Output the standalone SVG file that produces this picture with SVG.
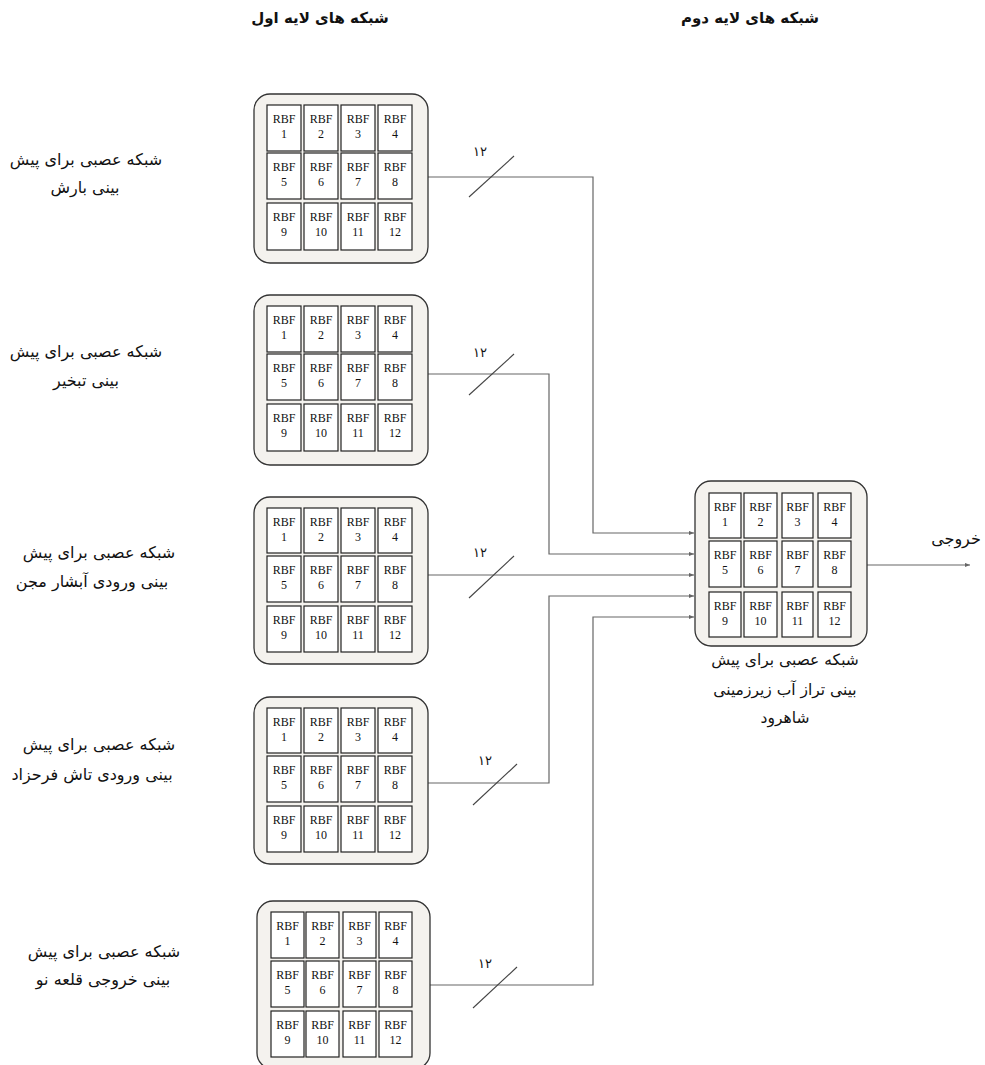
<svg xmlns="http://www.w3.org/2000/svg" width="985" height="1065" viewBox="0 0 985 1065">
<style>
.box{fill:#f4f2ee;stroke:#333;stroke-width:1.3}
.cell{fill:#fff;stroke:#222;stroke-width:1.2}
.rbf{font-family:"Liberation Serif",serif;font-size:12px;fill:#111;text-anchor:middle}
.fa{font-family:"DejaVu Sans",sans-serif;font-size:16px;fill:#111;text-anchor:middle}
.fr{font-family:"DejaVu Sans",sans-serif;font-size:15.5px;fill:#111;text-anchor:middle}
.hd{font-family:"DejaVu Sans",sans-serif;font-size:15px;font-weight:bold;fill:#111;text-anchor:middle}
.num{font-family:"DejaVu Sans",sans-serif;font-size:13px;fill:#111;text-anchor:middle}
.con{fill:none;stroke:#666;stroke-width:1.2}
.sl{stroke:#444;stroke-width:1.1}
</style>
<defs>
<marker id="arr" viewBox="0 0 6 6" refX="6" refY="3" markerWidth="5" markerHeight="5" orient="auto" markerUnits="userSpaceOnUse"><path d="M0,0.5 L6,3 L0,5.5 z" fill="#666"/></marker>
</defs>

<text class="hd" x="320" y="23">شبکه های لایه اول</text>
<text class="hd" x="750" y="23">شبکه های لایه دوم</text>

<g id="connectors">
<polyline class="con" points="428,177 593,177 593,533 694,533" marker-end="url(#arr)"/>
<polyline class="con" points="428,374 549,374 549,554 694,554" marker-end="url(#arr)"/>
<polyline class="con" points="428,575 694,575" marker-end="url(#arr)"/>
<polyline class="con" points="428,783 549,783 549,596 694,596" marker-end="url(#arr)"/>
<polyline class="con" points="430,985 593,985 593,617 694,617" marker-end="url(#arr)"/>
<polyline class="con" points="867,565 970,565" marker-end="url(#arr)"/>
<line class="sl" x1="469" y1="197" x2="514" y2="156"/>
<line class="sl" x1="469" y1="395" x2="514" y2="354"/>
<line class="sl" x1="469" y1="598" x2="514" y2="556"/>
<line class="sl" x1="473" y1="805" x2="517" y2="764"/>
<line class="sl" x1="473" y1="1008" x2="517" y2="967"/>
<text class="num" x="480" y="156">۱۲</text>
<text class="num" x="480" y="357">۱۲</text>
<text class="num" x="480" y="557">۱۲</text>
<text class="num" x="485" y="765">۱۲</text>
<text class="num" x="485" y="968">۱۲</text>
</g>

<g id="label1"><text class="fa" x="86" y="165">شبکه عصبی برای پیش</text><text class="fa" x="85" y="193">بینی بارش</text></g>
<g id="label2"><text class="fa" x="86" y="357">شبکه عصبی برای پیش</text><text class="fa" x="86" y="386">بینی تبخیر</text></g>
<g id="label3"><text class="fa" x="99" y="558">شبکه عصبی برای پیش</text><text class="fa" x="92" y="587">بینی ورودی آبشار مجن</text></g>
<g id="label4"><text class="fa" x="99" y="750">شبکه عصبی برای پیش</text><text class="fa" x="92" y="780">بینی ورودی تاش فرحزاد</text></g>
<g id="label5"><text class="fa" x="104" y="957">شبکه عصبی برای پیش</text><text class="fa" x="103" y="985">بینی خروجی قلعه نو</text></g>
<g id="labelR"><text class="fr" x="785" y="665">شبکه عصبی برای پیش</text><text class="fr" x="785" y="695">بینی تراز آب زیرزمینی</text><text class="fr" x="785" y="723">شاهرود</text></g>
<g id="output"><text class="fa" x="956" y="544">خروجی</text></g>

<g id="net1" transform="translate(254,94)">
<rect class="box" x="0" y="0" width="174" height="169" rx="16"/>
<rect class="cell" x="13" y="11" width="34" height="46"/><rect class="cell" x="50" y="11" width="34" height="46"/><rect class="cell" x="87" y="11" width="34" height="46"/><rect class="cell" x="124" y="11" width="34" height="46"/>
<rect class="cell" x="13" y="59" width="34" height="46"/><rect class="cell" x="50" y="59" width="34" height="46"/><rect class="cell" x="87" y="59" width="34" height="46"/><rect class="cell" x="124" y="59" width="34" height="46"/>
<rect class="cell" x="13" y="109" width="34" height="47"/><rect class="cell" x="50" y="109" width="34" height="47"/><rect class="cell" x="87" y="109" width="34" height="47"/><rect class="cell" x="124" y="109" width="34" height="47"/>
<text class="rbf" x="30" y="29">RBF</text><text class="rbf" x="30" y="44">1</text><text class="rbf" x="67" y="29">RBF</text><text class="rbf" x="67" y="44">2</text><text class="rbf" x="104" y="29">RBF</text><text class="rbf" x="104" y="44">3</text><text class="rbf" x="141" y="29">RBF</text><text class="rbf" x="141" y="44">4</text>
<text class="rbf" x="30" y="77">RBF</text><text class="rbf" x="30" y="92">5</text><text class="rbf" x="67" y="77">RBF</text><text class="rbf" x="67" y="92">6</text><text class="rbf" x="104" y="77">RBF</text><text class="rbf" x="104" y="92">7</text><text class="rbf" x="141" y="77">RBF</text><text class="rbf" x="141" y="92">8</text>
<text class="rbf" x="30" y="127">RBF</text><text class="rbf" x="30" y="142">9</text><text class="rbf" x="67" y="127">RBF</text><text class="rbf" x="67" y="142">10</text><text class="rbf" x="104" y="127">RBF</text><text class="rbf" x="104" y="142">11</text><text class="rbf" x="141" y="127">RBF</text><text class="rbf" x="141" y="142">12</text>
</g>

<g id="net2" transform="translate(254,295)">
<rect class="box" x="0" y="0" width="174" height="170" rx="16"/>
<rect class="cell" x="13" y="11" width="34" height="46"/><rect class="cell" x="50" y="11" width="34" height="46"/><rect class="cell" x="87" y="11" width="34" height="46"/><rect class="cell" x="124" y="11" width="34" height="46"/>
<rect class="cell" x="13" y="59" width="34" height="46"/><rect class="cell" x="50" y="59" width="34" height="46"/><rect class="cell" x="87" y="59" width="34" height="46"/><rect class="cell" x="124" y="59" width="34" height="46"/>
<rect class="cell" x="13" y="109" width="34" height="47"/><rect class="cell" x="50" y="109" width="34" height="47"/><rect class="cell" x="87" y="109" width="34" height="47"/><rect class="cell" x="124" y="109" width="34" height="47"/>
<text class="rbf" x="30" y="29">RBF</text><text class="rbf" x="30" y="44">1</text><text class="rbf" x="67" y="29">RBF</text><text class="rbf" x="67" y="44">2</text><text class="rbf" x="104" y="29">RBF</text><text class="rbf" x="104" y="44">3</text><text class="rbf" x="141" y="29">RBF</text><text class="rbf" x="141" y="44">4</text>
<text class="rbf" x="30" y="77">RBF</text><text class="rbf" x="30" y="92">5</text><text class="rbf" x="67" y="77">RBF</text><text class="rbf" x="67" y="92">6</text><text class="rbf" x="104" y="77">RBF</text><text class="rbf" x="104" y="92">7</text><text class="rbf" x="141" y="77">RBF</text><text class="rbf" x="141" y="92">8</text>
<text class="rbf" x="30" y="127">RBF</text><text class="rbf" x="30" y="142">9</text><text class="rbf" x="67" y="127">RBF</text><text class="rbf" x="67" y="142">10</text><text class="rbf" x="104" y="127">RBF</text><text class="rbf" x="104" y="142">11</text><text class="rbf" x="141" y="127">RBF</text><text class="rbf" x="141" y="142">12</text>
</g>

<g id="net3" transform="translate(254,497)">
<rect class="box" x="0" y="0" width="174" height="167" rx="16"/>
<rect class="cell" x="13" y="11" width="34" height="45"/><rect class="cell" x="50" y="11" width="34" height="45"/><rect class="cell" x="87" y="11" width="34" height="45"/><rect class="cell" x="124" y="11" width="34" height="45"/>
<rect class="cell" x="13" y="59" width="34" height="46"/><rect class="cell" x="50" y="59" width="34" height="46"/><rect class="cell" x="87" y="59" width="34" height="46"/><rect class="cell" x="124" y="59" width="34" height="46"/>
<rect class="cell" x="13" y="109" width="34" height="46"/><rect class="cell" x="50" y="109" width="34" height="46"/><rect class="cell" x="87" y="109" width="34" height="46"/><rect class="cell" x="124" y="109" width="34" height="46"/>
<text class="rbf" x="30" y="29">RBF</text><text class="rbf" x="30" y="44">1</text><text class="rbf" x="67" y="29">RBF</text><text class="rbf" x="67" y="44">2</text><text class="rbf" x="104" y="29">RBF</text><text class="rbf" x="104" y="44">3</text><text class="rbf" x="141" y="29">RBF</text><text class="rbf" x="141" y="44">4</text>
<text class="rbf" x="30" y="77">RBF</text><text class="rbf" x="30" y="92">5</text><text class="rbf" x="67" y="77">RBF</text><text class="rbf" x="67" y="92">6</text><text class="rbf" x="104" y="77">RBF</text><text class="rbf" x="104" y="92">7</text><text class="rbf" x="141" y="77">RBF</text><text class="rbf" x="141" y="92">8</text>
<text class="rbf" x="30" y="127">RBF</text><text class="rbf" x="30" y="142">9</text><text class="rbf" x="67" y="127">RBF</text><text class="rbf" x="67" y="142">10</text><text class="rbf" x="104" y="127">RBF</text><text class="rbf" x="104" y="142">11</text><text class="rbf" x="141" y="127">RBF</text><text class="rbf" x="141" y="142">12</text>
</g>

<g id="net4" transform="translate(254,697)">
<rect class="box" x="0" y="0" width="174" height="167" rx="16"/>
<rect class="cell" x="13" y="11" width="34" height="45"/><rect class="cell" x="50" y="11" width="34" height="45"/><rect class="cell" x="87" y="11" width="34" height="45"/><rect class="cell" x="124" y="11" width="34" height="45"/>
<rect class="cell" x="13" y="59" width="34" height="46"/><rect class="cell" x="50" y="59" width="34" height="46"/><rect class="cell" x="87" y="59" width="34" height="46"/><rect class="cell" x="124" y="59" width="34" height="46"/>
<rect class="cell" x="13" y="109" width="34" height="46"/><rect class="cell" x="50" y="109" width="34" height="46"/><rect class="cell" x="87" y="109" width="34" height="46"/><rect class="cell" x="124" y="109" width="34" height="46"/>
<text class="rbf" x="30" y="29">RBF</text><text class="rbf" x="30" y="44">1</text><text class="rbf" x="67" y="29">RBF</text><text class="rbf" x="67" y="44">2</text><text class="rbf" x="104" y="29">RBF</text><text class="rbf" x="104" y="44">3</text><text class="rbf" x="141" y="29">RBF</text><text class="rbf" x="141" y="44">4</text>
<text class="rbf" x="30" y="77">RBF</text><text class="rbf" x="30" y="92">5</text><text class="rbf" x="67" y="77">RBF</text><text class="rbf" x="67" y="92">6</text><text class="rbf" x="104" y="77">RBF</text><text class="rbf" x="104" y="92">7</text><text class="rbf" x="141" y="77">RBF</text><text class="rbf" x="141" y="92">8</text>
<text class="rbf" x="30" y="127">RBF</text><text class="rbf" x="30" y="142">9</text><text class="rbf" x="67" y="127">RBF</text><text class="rbf" x="67" y="142">10</text><text class="rbf" x="104" y="127">RBF</text><text class="rbf" x="104" y="142">11</text><text class="rbf" x="141" y="127">RBF</text><text class="rbf" x="141" y="142">12</text>
</g>

<g id="net5" transform="translate(257,901)">
<rect class="box" x="0" y="0" width="173" height="168" rx="16"/>
<rect class="cell" x="14" y="11" width="33" height="46"/><rect class="cell" x="49" y="11" width="33" height="46"/><rect class="cell" x="86" y="11" width="33" height="46"/><rect class="cell" x="122" y="11" width="33" height="46"/>
<rect class="cell" x="14" y="60" width="33" height="46"/><rect class="cell" x="49" y="60" width="33" height="46"/><rect class="cell" x="86" y="60" width="33" height="46"/><rect class="cell" x="122" y="60" width="33" height="46"/>
<rect class="cell" x="14" y="110" width="33" height="46"/><rect class="cell" x="49" y="110" width="33" height="46"/><rect class="cell" x="86" y="110" width="33" height="46"/><rect class="cell" x="122" y="110" width="33" height="46"/>
<text class="rbf" x="30.5" y="29">RBF</text><text class="rbf" x="30.5" y="44">1</text><text class="rbf" x="65.5" y="29">RBF</text><text class="rbf" x="65.5" y="44">2</text><text class="rbf" x="102.5" y="29">RBF</text><text class="rbf" x="102.5" y="44">3</text><text class="rbf" x="138.5" y="29">RBF</text><text class="rbf" x="138.5" y="44">4</text>
<text class="rbf" x="30.5" y="78">RBF</text><text class="rbf" x="30.5" y="93">5</text><text class="rbf" x="65.5" y="78">RBF</text><text class="rbf" x="65.5" y="93">6</text><text class="rbf" x="102.5" y="78">RBF</text><text class="rbf" x="102.5" y="93">7</text><text class="rbf" x="138.5" y="78">RBF</text><text class="rbf" x="138.5" y="93">8</text>
<text class="rbf" x="30.5" y="128">RBF</text><text class="rbf" x="30.5" y="143">9</text><text class="rbf" x="65.5" y="128">RBF</text><text class="rbf" x="65.5" y="143">10</text><text class="rbf" x="102.5" y="128">RBF</text><text class="rbf" x="102.5" y="143">11</text><text class="rbf" x="138.5" y="128">RBF</text><text class="rbf" x="138.5" y="143">12</text>
</g>

<g id="netR" transform="translate(695,481)">
<rect class="box" x="0" y="0" width="172" height="165" rx="16"/>
<rect class="cell" x="14" y="12" width="32" height="45"/><rect class="cell" x="49" y="12" width="33" height="45"/><rect class="cell" x="87" y="12" width="31" height="45"/><rect class="cell" x="123" y="12" width="33" height="45"/>
<rect class="cell" x="14" y="60" width="32" height="46"/><rect class="cell" x="49" y="60" width="33" height="46"/><rect class="cell" x="87" y="60" width="31" height="46"/><rect class="cell" x="123" y="60" width="33" height="46"/>
<rect class="cell" x="14" y="111" width="32" height="45"/><rect class="cell" x="49" y="111" width="33" height="45"/><rect class="cell" x="87" y="111" width="31" height="45"/><rect class="cell" x="123" y="111" width="33" height="45"/>
<text class="rbf" x="30" y="30">RBF</text><text class="rbf" x="30" y="45">1</text><text class="rbf" x="65.5" y="30">RBF</text><text class="rbf" x="65.5" y="45">2</text><text class="rbf" x="102.5" y="30">RBF</text><text class="rbf" x="102.5" y="45">3</text><text class="rbf" x="139.5" y="30">RBF</text><text class="rbf" x="139.5" y="45">4</text>
<text class="rbf" x="30" y="78">RBF</text><text class="rbf" x="30" y="93">5</text><text class="rbf" x="65.5" y="78">RBF</text><text class="rbf" x="65.5" y="93">6</text><text class="rbf" x="102.5" y="78">RBF</text><text class="rbf" x="102.5" y="93">7</text><text class="rbf" x="139.5" y="78">RBF</text><text class="rbf" x="139.5" y="93">8</text>
<text class="rbf" x="30" y="129">RBF</text><text class="rbf" x="30" y="144">9</text><text class="rbf" x="65.5" y="129">RBF</text><text class="rbf" x="65.5" y="144">10</text><text class="rbf" x="102.5" y="129">RBF</text><text class="rbf" x="102.5" y="144">11</text><text class="rbf" x="139.5" y="129">RBF</text><text class="rbf" x="139.5" y="144">12</text>
</g>
</svg>
